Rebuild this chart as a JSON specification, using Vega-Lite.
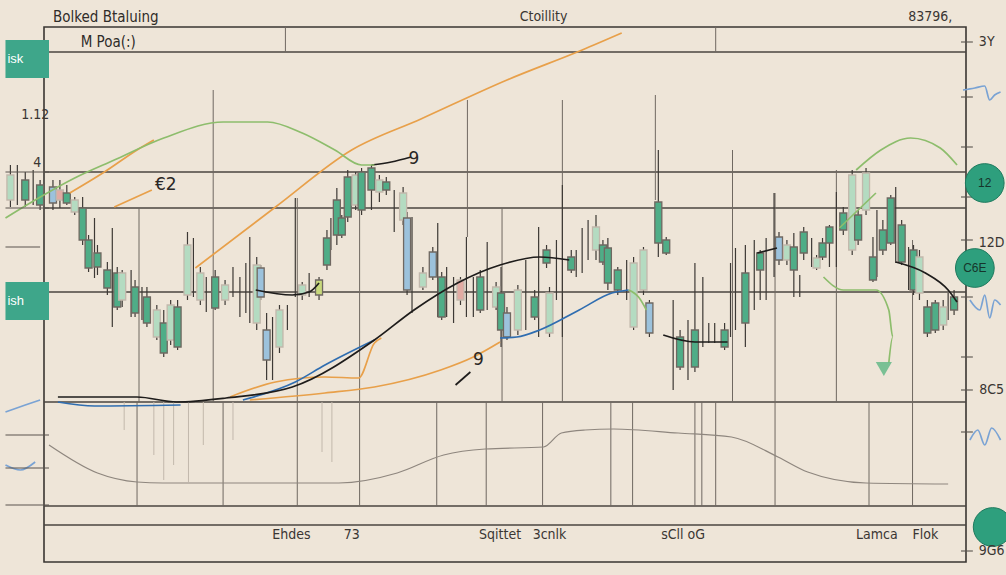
{
"$schema": "https://vega.github.io/schema/vega-lite/v6.json",
"width": 922,
"height": 535,
"autosize": {"type": "none"},
"padding": {"left": 44, "top": 27, "right": 40, "bottom": 13},
"background": "#eee5d8",
"config": {"view": {"stroke": "#3a3632", "strokeWidth": 1.6}},
"datasets": {
"hl": [{"p": 102}, {"p": 78}, {"p": 70.8}, {"p": 54}, {"p": 32}, {"p": 11.2}, {"p": 7.4}],
"vl": [
{"d": 23.9, "p": 107, "p2": 102, "k": "m"}, {"d": 67.4, "p": 107, "p2": 102, "k": "m"},
{"d": 16.6, "p": 94.4, "p2": 32, "k": "m"}, {"d": 9.1, "p": 70.8, "p2": 32, "k": "m"},
{"d": 25.1, "p": 72.8, "p2": 32, "k": "m"}, {"d": 31.4, "p": 70.8, "p2": 32, "k": "m"},
{"d": 42.3, "p": 92.4, "p2": 65, "k": "m"}, {"d": 45.8, "p": 70.8, "p2": 32, "k": "m"},
{"d": 51.9, "p": 92.4, "p2": 32, "k": "m"}, {"d": 61.3, "p": 93.4, "p2": 72.4, "k": "m"},
{"d": 69.1, "p": 82.4, "p2": 32, "k": "m"}, {"d": 73.4, "p": 73.8, "p2": 32, "k": "m"},
{"d": 79.6, "p": 78.4, "p2": 32, "k": "m"}, {"d": 87.3, "p": 64.4, "p2": 32, "k": "m"},
{"d": 8.9, "p": 32, "p2": 11.2, "k": "m"}, {"d": 17.6, "p": 32, "p2": 11.2, "k": "m"},
{"d": 25.1, "p": 32, "p2": 11.2, "k": "m"}, {"d": 31.4, "p": 32, "p2": 11.2, "k": "m"},
{"d": 39.2, "p": 32, "p2": 11.2, "k": "m"}, {"d": 44.2, "p": 32, "p2": 11.2, "k": "m"},
{"d": 49.9, "p": 32, "p2": 11.2, "k": "m"}, {"d": 56.8, "p": 32, "p2": 11.2, "k": "m"},
{"d": 59, "p": 32, "p2": 11.2, "k": "m"}, {"d": 65.3, "p": 32, "p2": 11.2, "k": "m"},
{"d": 66, "p": 32, "p2": 11.2, "k": "m"}, {"d": 67.4, "p": 32, "p2": 11.2, "k": "m"},
{"d": 73.4, "p": 32, "p2": 11.2, "k": "m"}, {"d": 82.9, "p": 32, "p2": 11.2, "k": "m"},
{"d": 87.3, "p": 32, "p2": 11.2, "k": "m"},
{"d": 7.6, "p": 32, "p2": 26.4, "k": "f"}, {"d": 10.6, "p": 32, "p2": 21.4, "k": "f"},
{"d": 11.6, "p": 32, "p2": 16.4, "k": "f"}, {"d": 12.6, "p": 32, "p2": 19.4, "k": "f"},
{"d": 14.1, "p": 32, "p2": 16, "k": "f"}, {"d": 15.6, "p": 32, "p2": 23.4, "k": "f"},
{"d": 18.6, "p": 32, "p2": 24.4, "k": "f"}, {"d": 27.6, "p": 32, "p2": 22, "k": "f"},
{"d": 28.6, "p": 32, "p2": 20, "k": "f"}
],
"candles": [
{"d": -3.9, "o": 77.4, "c": 72.4, "h": 79.4, "l": 71, "k": "p"},
{"d": -3.2, "h": 79.4, "l": 71.4, "k": "d"},
{"d": -2.4, "o": 76.4, "c": 72.4, "h": 78, "l": 71, "k": "g"},
{"d": -1.6, "h": 78.4, "l": 71.4, "k": "d"},
{"d": -0.9, "o": 75.4, "c": 71.4, "h": 76.4, "l": 70.4, "k": "g"},
{"d": 0.4, "o": 75, "c": 71.8, "h": 76.4, "l": 70.4, "k": "b"},
{"d": 1.1, "o": 74.4, "c": 72.4, "h": 76.4, "l": 70.8, "k": "r"},
{"d": 1.8, "o": 73.8, "c": 71.8, "h": 75.4, "l": 71.4, "k": "g"},
{"d": 2.6, "o": 72.4, "c": 70, "h": 73, "l": 69.4, "k": "p"},
{"d": 3.4, "o": 70.8, "c": 64.4, "h": 73, "l": 63.4, "k": "g"},
{"d": 4.0, "o": 64.4, "c": 58.8, "h": 65.4, "l": 58, "k": "g"},
{"d": 4.6, "h": 68.8, "l": 56.8, "k": "d"},
{"d": 4.9, "o": 61.8, "c": 59, "h": 63.4, "l": 57.4, "k": "g"},
{"d": 5.9, "o": 58.4, "c": 54.8, "h": 60, "l": 53.4, "k": "g"},
{"d": 6.4, "h": 66.8, "l": 47, "k": "d"},
{"d": 6.9, "o": 57.8, "c": 51, "h": 59, "l": 50.4, "k": "g"},
{"d": 7.4, "o": 57.8, "c": 52.4, "h": 58.4, "l": 51, "k": "p"},
{"d": 8.3, "h": 58.4, "l": 49, "k": "d"},
{"d": 8.7, "o": 55, "c": 49.8, "h": 56.4, "l": 49, "k": "g"},
{"d": 9.4, "h": 55, "l": 48.4, "k": "d"},
{"d": 9.9, "o": 53, "c": 47.8, "h": 55, "l": 47, "k": "g"},
{"d": 10.9, "o": 50.4, "c": 45, "h": 51.4, "l": 44.4, "k": "p"},
{"d": 11.6, "o": 47.8, "c": 41.8, "h": 50.4, "l": 41, "k": "g"},
{"d": 12.3, "o": 51.4, "c": 44.4, "h": 52.4, "l": 43.4, "k": "p"},
{"d": 13, "o": 51, "c": 43, "h": 52.4, "l": 42.4, "k": "g"},
{"d": 14, "o": 63.4, "c": 53.4, "h": 66, "l": 52.4, "k": "p"},
{"d": 14.6, "h": 64.8, "l": 53, "k": "d"},
{"d": 15.3, "o": 57.8, "c": 52.4, "h": 59, "l": 51.4, "k": "p"},
{"d": 15.9, "h": 57, "l": 50, "k": "d"},
{"d": 16.8, "o": 57, "c": 50.8, "h": 58.4, "l": 50.4, "k": "g"},
{"d": 17.8, "o": 55.4, "c": 52.4, "h": 56.4, "l": 51.4, "k": "p"},
{"d": 18.6, "h": 59, "l": 53, "k": "d"},
{"d": 19.3, "h": 57, "l": 49, "k": "d"},
{"d": 19.9, "h": 59.8, "l": 49.8, "k": "d"},
{"d": 20.3, "h": 65, "l": 47.8, "k": "d"},
{"d": 21, "o": 59.4, "c": 47.8, "h": 61, "l": 46.4, "k": "p"},
{"d": 21.4, "o": 58.8, "c": 53, "h": 59.4, "l": 52.4, "k": "b"},
{"d": 22, "o": 46.4, "c": 40.4, "h": 49.8, "l": 36.4, "k": "b"},
{"d": 22.6, "h": 49, "l": 36.4, "k": "d"},
{"d": 23.3, "o": 50.4, "c": 43, "h": 51.4, "l": 41.8, "k": "p"},
{"d": 24.1, "h": 51.4, "l": 46.4, "k": "d"},
{"d": 24.9, "h": 72.8, "l": 53, "k": "d"},
{"d": 25.6, "o": 55.4, "c": 53.4, "h": 56, "l": 52.4, "k": "p"},
{"d": 26.3, "h": 57.8, "l": 53, "k": "d"},
{"d": 27.3, "o": 56.4, "c": 53.4, "h": 57, "l": 52.4, "k": "y"},
{"d": 28.1, "o": 64.8, "c": 59.4, "h": 66.4, "l": 58.4, "k": "g"},
{"d": 28.5, "h": 68.8, "l": 62.4, "k": "d"},
{"d": 29.1, "o": 72.4, "c": 65.4, "h": 74.8, "l": 63.4, "k": "g"},
{"d": 29.6, "o": 68.8, "c": 65.4, "h": 69.4, "l": 64.8, "k": "g"},
{"d": 30.2, "o": 77, "c": 69, "h": 78.4, "l": 68, "k": "g"},
{"d": 31, "o": 77.4, "c": 71.4, "h": 78, "l": 70.4, "k": "p"},
{"d": 31.6, "o": 78, "c": 70.4, "h": 78.8, "l": 69.4, "k": "g"},
{"d": 32.6, "o": 78.8, "c": 74.4, "h": 79.4, "l": 70.4, "k": "g"},
{"d": 33.4, "o": 76.4, "c": 74, "h": 77.4, "l": 72, "k": "p"},
{"d": 34.1, "o": 76, "c": 74.4, "h": 77, "l": 73.4, "k": "g"},
{"d": 34.9, "h": 74.4, "l": 66, "k": "d"},
{"d": 35.8, "o": 73.8, "c": 68.4, "h": 75, "l": 67.4, "k": "p"},
{"d": 36.2, "o": 68.8, "c": 54.4, "h": 70, "l": 53.4, "k": "b"},
{"d": 36.7, "h": 69, "l": 49.8, "k": "d"},
{"d": 37.8, "o": 57.8, "c": 55, "h": 59, "l": 54.4, "k": "p"},
{"d": 38.8, "o": 62, "c": 57, "h": 63, "l": 56.4, "k": "b"},
{"d": 39.3, "h": 67.8, "l": 49, "k": "d"},
{"d": 39.7, "o": 57, "c": 49, "h": 58, "l": 48.4, "k": "g"},
{"d": 40.2, "h": 59, "l": 49, "k": "d"},
{"d": 40.9, "h": 57, "l": 47.8, "k": "d"},
{"d": 41.6, "o": 56.4, "c": 52.4, "h": 57, "l": 51.4, "k": "r"},
{"d": 42.2, "h": 65, "l": 49, "k": "d"},
{"d": 42.9, "h": 57, "l": 49, "k": "d"},
{"d": 43.6, "o": 57, "c": 50.4, "h": 58.4, "l": 49.8, "k": "g"},
{"d": 44.3, "h": 64, "l": 50.4, "k": "d"},
{"d": 45.2, "o": 55, "c": 51, "h": 56, "l": 50.4, "k": "p"},
{"d": 45.7, "o": 53.8, "c": 46.4, "h": 59, "l": 43, "k": "g"},
{"d": 46.3, "o": 49.8, "c": 45, "h": 51, "l": 44.4, "k": "b"},
{"d": 47.4, "o": 54.4, "c": 46.4, "h": 55.4, "l": 45.4, "k": "p"},
{"d": 48.2, "h": 60.4, "l": 46.4, "k": "d"},
{"d": 49.1, "o": 53, "c": 49, "h": 54.4, "l": 48.4, "k": "g"},
{"d": 49.5, "h": 67, "l": 45, "k": "d"},
{"d": 50.3, "o": 62.4, "c": 59.8, "h": 63.4, "l": 58.8, "k": "g"},
{"d": 50.6, "o": 53.8, "c": 45.8, "h": 55, "l": 45, "k": "p"},
{"d": 51.3, "h": 64.4, "l": 52.4, "k": "d"},
{"d": 51.9, "h": 75.4, "l": 45, "k": "d"},
{"d": 52.8, "o": 61, "c": 58.4, "h": 62.4, "l": 57.8, "k": "g"},
{"d": 53.3, "h": 62.4, "l": 57, "k": "d"},
{"d": 53.9, "h": 66.8, "l": 57.8, "k": "d"},
{"d": 54.5, "h": 68.4, "l": 60.4, "k": "d"},
{"d": 55.3, "o": 67, "c": 62.4, "h": 69.4, "l": 60.4, "k": "p"},
{"d": 56, "o": 63.4, "c": 60, "h": 64.4, "l": 59.4, "k": "g"},
{"d": 56.5, "o": 62.8, "c": 55.8, "h": 64.8, "l": 54.4, "k": "g"},
{"d": 57.5, "o": 58.4, "c": 54.4, "h": 59, "l": 53.4, "k": "g"},
{"d": 58.4, "h": 60.4, "l": 52.4, "k": "d"},
{"d": 59.1, "o": 59.8, "c": 47, "h": 61, "l": 46.4, "k": "p"},
{"d": 60.1, "o": 62.4, "c": 54.4, "h": 63, "l": 53.4, "k": "p"},
{"d": 60.7, "o": 51.8, "c": 45.8, "h": 52.4, "l": 45, "k": "b"},
{"d": 61.6, "o": 72, "c": 63.8, "h": 82.4, "l": 61, "k": "g"},
{"d": 62.4, "o": 64.4, "c": 61.8, "h": 65, "l": 61.4, "k": "g"},
{"d": 63.1, "h": 52.4, "l": 34.4, "k": "d"},
{"d": 63.8, "o": 45, "c": 39, "h": 46.4, "l": 38.4, "k": "g"},
{"d": 64.6, "h": 48.4, "l": 36.4, "k": "d"},
{"d": 65.3, "o": 46.4, "c": 39, "h": 59.8, "l": 38, "k": "g"},
{"d": 66.1, "h": 57, "l": 43, "k": "d"},
{"d": 66.7, "h": 47.8, "l": 43.8, "k": "d"},
{"d": 67.3, "h": 47.8, "l": 43.8, "k": "d"},
{"d": 68.3, "o": 46.4, "c": 43, "h": 47.8, "l": 42.4, "k": "g"},
{"d": 68.9, "h": 59.8, "l": 45, "k": "d"},
{"d": 69.4, "h": 62.8, "l": 46.4, "k": "d"},
{"d": 70.4, "o": 57.8, "c": 47.8, "h": 63.4, "l": 43, "k": "g"},
{"d": 71.3, "h": 64.4, "l": 50.4, "k": "d"},
{"d": 71.9, "o": 61.8, "c": 58.4, "h": 62.4, "l": 52.4, "k": "g"},
{"d": 72.5, "h": 64.8, "l": 52.4, "k": "d"},
{"d": 73.3, "h": 73.8, "l": 57, "k": "d"},
{"d": 73.8, "o": 65, "c": 60.4, "h": 66, "l": 59.4, "k": "b"},
{"d": 74.6, "o": 63.4, "c": 60.4, "h": 64.4, "l": 59.4, "k": "p"},
{"d": 75.3, "o": 63, "c": 58.4, "h": 65.8, "l": 53, "k": "g"},
{"d": 75.9, "h": 57.4, "l": 53, "k": "d"},
{"d": 76.3, "o": 66, "c": 61.8, "h": 67, "l": 60.4, "k": "g"},
{"d": 77.1, "h": 64.8, "l": 59, "k": "d"},
{"d": 77.6, "o": 60.8, "c": 58.8, "h": 61.4, "l": 58.4, "k": "p"},
{"d": 78.2, "o": 63.8, "c": 61, "h": 64.8, "l": 60.4, "k": "g"},
{"d": 78.9, "o": 67, "c": 63.8, "h": 67.4, "l": 59, "k": "g"},
{"d": 79.6, "h": 74, "l": 59, "k": "d"},
{"d": 80.3, "o": 69.8, "c": 66.4, "h": 71, "l": 65.4, "k": "g"},
{"d": 81.2, "o": 77.4, "c": 62.4, "h": 78.4, "l": 61.4, "k": "p"},
{"d": 81.8, "o": 69.4, "c": 64.4, "h": 70.4, "l": 63.4, "k": "g"},
{"d": 82.6, "o": 77.8, "c": 70.4, "h": 78.8, "l": 69.4, "k": "p"},
{"d": 83.3, "o": 61, "c": 56.4, "h": 65, "l": 56, "k": "g"},
{"d": 83.7, "h": 70.4, "l": 57, "k": "d"},
{"d": 84.3, "o": 66.4, "c": 62.4, "h": 68.4, "l": 61.4, "k": "g"},
{"d": 85.1, "o": 72.8, "c": 63.8, "h": 73.4, "l": 63.4, "k": "g"},
{"d": 85.6, "h": 75, "l": 59.8, "k": "d"},
{"d": 86.2, "o": 67.4, "c": 60, "h": 68.4, "l": 59.4, "k": "g"},
{"d": 86.9, "h": 63, "l": 54.4, "k": "d"},
{"d": 87.4, "o": 62.4, "c": 54.4, "h": 63.4, "l": 53.4, "k": "g"},
{"d": 88, "o": 61, "c": 53.8, "h": 62.4, "l": 52.4, "k": "p"},
{"d": 88.8, "o": 51, "c": 45.8, "h": 52.4, "l": 45, "k": "g"},
{"d": 89.6, "o": 51.8, "c": 46.4, "h": 52.4, "l": 45.8, "k": "g"},
{"d": 90.4, "o": 51, "c": 47.4, "h": 52.4, "l": 46.4, "k": "p"},
{"d": 90.9, "h": 53.8, "l": 48.4, "k": "d"},
{"d": 91.5, "o": 53, "c": 50.4, "h": 54.4, "l": 49.4, "k": "g"}
],
"series": [
{"s": "oA", "c": "orange", "d": 2.1, "p": 73.8}, {"s": "oA", "c": "orange", "d": 5.6, "p": 78}, {"s": "oA", "c": "orange", "d": 8.9, "p": 82.4}, {"s": "oA", "c": "orange", "d": 10.6, "p": 84.4},
{"s": "oB", "c": "orange", "d": 6.6, "p": 71}, {"s": "oB", "c": "orange", "d": 10.4, "p": 74.4},
{"s": "oC", "c": "orange", "d": 14.8, "p": 58.8}, {"s": "oC", "c": "orange", "d": 22.9, "p": 71}, {"s": "oC", "c": "orange", "d": 30.6, "p": 82.4}, {"s": "oC", "c": "orange", "d": 37.6, "p": 88.6}, {"s": "oC", "c": "orange", "d": 46.3, "p": 96.4}, {"s": "oC", "c": "orange", "d": 53.9, "p": 102.4}, {"s": "oC", "c": "orange", "d": 57.9, "p": 105.8},
{"s": "oD", "c": "orange", "d": 18.3, "p": 33}, {"s": "oD", "c": "orange", "d": 22.9, "p": 36}, {"s": "oD", "c": "orange", "d": 27.9, "p": 37}, {"s": "oD", "c": "orange", "d": 31.3, "p": 36.8}, {"s": "oD", "c": "orange", "d": 32.9, "p": 43.8}, {"s": "oD", "c": "orange", "d": 33.6, "p": 44.8},
{"s": "oE", "c": "orange", "d": 20.3, "p": 32.4}, {"s": "oE", "c": "orange", "d": 27.9, "p": 33.8}, {"s": "oE", "c": "orange", "d": 32.9, "p": 35}, {"s": "oE", "c": "orange", "d": 39.6, "p": 38.4}, {"s": "oE", "c": "orange", "d": 42.9, "p": 41}, {"s": "oE", "c": "orange", "d": 45.6, "p": 44},
{"s": "b1", "c": "blue", "d": 0.9, "p": 32}, {"s": "b1", "c": "blue", "d": 4.6, "p": 31.2}, {"s": "b1", "c": "blue", "d": 13.3, "p": 31.4},
{"s": "b2", "c": "blue", "d": 19.6, "p": 32.4}, {"s": "b2", "c": "blue", "d": 24.9, "p": 36}, {"s": "b2", "c": "blue", "d": 27.9, "p": 39.4}, {"s": "b2", "c": "blue", "d": 32.9, "p": 44.4},
{"s": "b3", "c": "blue", "d": 45.6, "p": 44.8}, {"s": "b3", "c": "blue", "d": 47.3, "p": 45}, {"s": "b3", "c": "blue", "d": 49.6, "p": 46.4}, {"s": "b3", "c": "blue", "d": 53.6, "p": 50.4}, {"s": "b3", "c": "blue", "d": 56.9, "p": 53.8}, {"s": "b3", "c": "blue", "d": 58.6, "p": 54.4},
{"s": "gC", "c": "green", "d": 58.6, "p": 54.4}, {"s": "gC", "c": "green", "d": 59.6, "p": 53}, {"s": "gC", "c": "green", "d": 60.4, "p": 50.4},
{"s": "k1", "c": "black", "d": 0.9, "p": 33}, {"s": "k1", "c": "black", "d": 8.9, "p": 33}, {"s": "k1", "c": "black", "d": 12.9, "p": 32}, {"s": "k1", "c": "black", "d": 17.9, "p": 32.8}, {"s": "k1", "c": "black", "d": 24.6, "p": 35}, {"s": "k1", "c": "black", "d": 32.9, "p": 44.4}, {"s": "k1", "c": "black", "d": 36.9, "p": 50.4}, {"s": "k1", "c": "black", "d": 41.3, "p": 55.8}, {"s": "k1", "c": "black", "d": 45.6, "p": 59.4}, {"s": "k1", "c": "black", "d": 49.6, "p": 61}, {"s": "k1", "c": "black", "d": 52.6, "p": 60.4},
{"s": "k2", "c": "black", "d": 20.9, "p": 54.4}, {"s": "k2", "c": "black", "d": 24.6, "p": 53.4}, {"s": "k2", "c": "black", "d": 26.3, "p": 54}, {"s": "k2", "c": "black", "d": 27.3, "p": 55.8},
{"s": "k3", "c": "black", "d": 62.1, "p": 45.4}, {"s": "k3", "c": "black", "d": 65.3, "p": 44}, {"s": "k3", "c": "black", "d": 68.6, "p": 44},
{"s": "k4", "c": "black", "d": 71.6, "p": 61.8}, {"s": "k4", "c": "black", "d": 73.6, "p": 62.8},
{"s": "k5", "c": "black", "d": 85.6, "p": 60}, {"s": "k5", "c": "black", "d": 88.6, "p": 57.8}, {"s": "k5", "c": "black", "d": 90.9, "p": 54.4}, {"s": "k5", "c": "black", "d": 91.8, "p": 52},
{"s": "k6", "c": "black", "d": 41.1, "p": 35.4}, {"s": "k6", "c": "black", "d": 42.6, "p": 38},
{"s": "k7", "c": "black", "d": 32.6, "p": 79.4}, {"s": "k7", "c": "black", "d": 34.6, "p": 80}, {"s": "k7", "c": "black", "d": 36.6, "p": 81},
{"s": "gA", "c": "green", "d": -4.4, "p": 68.8}, {"s": "gA", "c": "green", "d": -1.4, "p": 72.4}, {"s": "gA", "c": "green", "d": 2.6, "p": 76.8}, {"s": "gA", "c": "green", "d": 6.6, "p": 80.4}, {"s": "gA", "c": "green", "d": 11.6, "p": 84.8}, {"s": "gA", "c": "green", "d": 17.6, "p": 88}, {"s": "gA", "c": "green", "d": 22.1, "p": 88}, {"s": "gA", "c": "green", "d": 25.6, "p": 85.8}, {"s": "gA", "c": "green", "d": 28.9, "p": 82.4}, {"s": "gA", "c": "green", "d": 31.6, "p": 79.4}, {"s": "gA", "c": "green", "d": 32.9, "p": 79.4},
{"s": "gR", "c": "green", "d": 81.6, "p": 78.4}, {"s": "gR", "c": "green", "d": 84.1, "p": 82.4}, {"s": "gR", "c": "green", "d": 87.1, "p": 84.8}, {"s": "gR", "c": "green", "d": 90.1, "p": 82.8}, {"s": "gR", "c": "green", "d": 91.8, "p": 79.4},
{"s": "gL", "c": "green", "d": 79.9, "p": 66.8}, {"s": "gL", "c": "green", "d": 81.8, "p": 70.4}, {"s": "gL", "c": "green", "d": 83.6, "p": 73.8},
{"s": "gW", "c": "green", "d": 78.3, "p": 57}, {"s": "gW", "c": "green", "d": 80.3, "p": 54.4}, {"s": "gW", "c": "green", "d": 83.6, "p": 54.4}, {"s": "gW", "c": "green", "d": 84.9, "p": 50.4}, {"s": "gW", "c": "green", "d": 85.3, "p": 45}, {"s": "gW", "c": "green", "d": 84.9, "p": 39.8},
{"s": "w1", "c": "wiggle", "d": 92.4, "p": 94.4}, {"s": "w1", "c": "wiggle", "d": 93.6, "p": 94.8}, {"s": "w1", "c": "wiggle", "d": 94.6, "p": 95.2}, {"s": "w1", "c": "wiggle", "d": 95.1, "p": 92.4}, {"s": "w1", "c": "wiggle", "d": 95.6, "p": 93.4}, {"s": "w1", "c": "wiggle", "d": 96.2, "p": 94},
{"s": "w2", "c": "wiggle", "d": 93.1, "p": 52.4}, {"s": "w2", "c": "wiggle", "d": 94.1, "p": 50.4}, {"s": "w2", "c": "wiggle", "d": 94.6, "p": 53.4}, {"s": "w2", "c": "wiggle", "d": 95.1, "p": 48.8}, {"s": "w2", "c": "wiggle", "d": 95.6, "p": 52.4}, {"s": "w2", "c": "wiggle", "d": 96.2, "p": 51.4},
{"s": "w3", "c": "wiggle", "d": 93.1, "p": 24.4}, {"s": "w3", "c": "wiggle", "d": 93.9, "p": 26.4}, {"s": "w3", "c": "wiggle", "d": 94.6, "p": 23.4}, {"s": "w3", "c": "wiggle", "d": 95.3, "p": 26.8}, {"s": "w3", "c": "wiggle", "d": 96.2, "p": 24.4},
{"s": "w4", "c": "wiggle", "d": -4.4, "p": 30}, {"s": "w4", "c": "wiggle", "d": -2.4, "p": 31.4}, {"s": "w4", "c": "wiggle", "d": -0.9, "p": 32.4},
{"s": "w5", "c": "wiggle", "d": -4.4, "p": 19.4}, {"s": "w5", "c": "wiggle", "d": -2.9, "p": 18.4}, {"s": "w5", "c": "wiggle", "d": -1.4, "p": 20}
],
"grayc": [
{"d": 0, "p": 23.4}, {"d": 4.9, "p": 17.8}, {"d": 8.9, "p": 16}, {"d": 11.5, "p": 15.8}, {"d": 29.3, "p": 15.8}, {"d": 35.2, "p": 17.8}, {"d": 39.9, "p": 21.4}, {"d": 44.1, "p": 22.6}, {"d": 50, "p": 23}, {"d": 51.8, "p": 25.8}, {"d": 54.2, "p": 26.4}, {"d": 57.1, "p": 26.6}, {"d": 63.6, "p": 25.8}, {"d": 69, "p": 25}, {"d": 73.7, "p": 21}, {"d": 76.7, "p": 18}, {"d": 82.6, "p": 15.8}, {"d": 90.9, "p": 15.6}
],
"ticks": [
{"d": 92.2, "d2": 93.4, "p": 104}, {"d": 92.2, "d2": 93.4, "p": 93}, {"d": 92.2, "d2": 93.4, "p": 83}, {"d": 92.2, "d2": 93.4, "p": 73}, {"d": 92.2, "d2": 93.4, "p": 64.4}, {"d": 92.2, "d2": 93.4, "p": 53}, {"d": 92.2, "d2": 93.4, "p": 41}, {"d": 92.2, "d2": 93.4, "p": 34.4}, {"d": 92.2, "d2": 93.4, "p": 26}, {"d": 92.2, "d2": 93.4, "p": 2.2},
{"d": -4.4, "d2": -0.9, "p": 63}, {"d": -4.4, "d2": 0, "p": 25.4}, {"d": -4.4, "d2": 0, "p": 18.8}, {"d": -4.4, "d2": 0, "p": 11.4},
{"d": -4.4, "d2": 0, "p": 78}, {"d": -4.4, "d2": 0, "p": 70.8}
],
"boxes": [{"d": -4.4, "d2": 0, "p": 104.4, "p2": 96.8, "t": "isk"}, {"d": -4.4, "d2": 0, "p": 56, "p2": 48.4, "t": "ish"}],
"circles": [{"d": 94.6, "p": 75.8, "t": "12"}, {"d": 93.6, "p": 58.8, "t": "C6E"}, {"d": 95.4, "p": 7, "t": ""}],
"txtL": [{"d": 0.4, "p": 109, "t": "Bolked Btaluing"}, {"d": 3.2, "p": 104, "t": "M Poa(:)"}],
"txtC": [
{"d": 50, "p": 109, "t": "Ctoillity"}, {"d": 89.1, "p": 109, "t": "83796,"},
{"d": 24.5, "p": 5.4, "t": "Ehdes"}, {"d": 30.6, "p": 5.4, "t": "73"}, {"d": 45.6, "p": 5.4, "t": "Sqittet"}, {"d": 50.6, "p": 5.4, "t": "3cnlk"}, {"d": 64.1, "p": 5.4, "t": "sCll oG"}, {"d": 83.7, "p": 5.4, "t": "Lamca"}, {"d": 88.6, "p": 5.4, "t": "Flok"},
{"d": 94.8, "p": 104, "t": "3Y"}, {"d": 95.3, "p": 63.8, "t": "12D"}, {"d": 95.3, "p": 34.4, "t": "8C5"}, {"d": 95.3, "p": 2.2, "t": "9G6"},
{"d": -1.4, "p": 89.4, "t": "1.12"}, {"d": -1.2, "p": 79.8, "t": "4"}
],
"txtB": [{"d": 11.8, "p": 75.4, "t": "€2"}, {"d": 36.9, "p": 80.6, "t": "9"}, {"d": 43.4, "p": 40.4, "t": "9"}]
},
"layer": [
{"data": {"name": "hl"}, "mark": {"type": "rule", "color": "#4a4541", "strokeWidth": 1.5},
 "encoding": {"y": {"field": "p", "type": "quantitative", "scale": {"domain": [0, 107], "nice": false, "zero": false}, "axis": null}}},
{"data": {"name": "vl"}, "mark": {"type": "rule", "strokeWidth": 1},
 "encoding": {
  "x": {"field": "d", "type": "quantitative", "scale": {"domain": [0, 92.2], "nice": false, "zero": false}, "axis": null},
  "y": {"field": "p", "type": "quantitative", "scale": {"domain": [0, 107], "nice": false, "zero": false}, "axis": null},
  "y2": {"field": "p2"},
  "stroke": {"field": "k", "type": "nominal", "scale": {"domain": ["m", "f"], "range": ["#6f6861", "#c2b8ac"]}, "legend": null}}},
{"data": {"name": "grayc"}, "mark": {"type": "line", "color": "#8e867e", "strokeWidth": 1.2, "interpolate": "monotone"},
 "encoding": {
  "x": {"field": "d", "type": "quantitative", "scale": {"domain": [0, 92.2], "nice": false, "zero": false}, "axis": null},
  "y": {"field": "p", "type": "quantitative", "scale": {"domain": [0, 107], "nice": false, "zero": false}, "axis": null}}},
{"data": {"name": "candles"}, "mark": {"type": "rule", "color": "#3d3935", "strokeWidth": 1.2, "clip": false},
 "encoding": {
  "x": {"field": "d", "type": "quantitative", "scale": {"domain": [0, 92.2], "nice": false, "zero": false}, "axis": null},
  "y": {"field": "h", "type": "quantitative", "scale": {"domain": [0, 107], "nice": false, "zero": false}, "axis": null},
  "y2": {"field": "l"}}},
{"data": {"name": "candles"}, "transform": [{"filter": "isValid(datum.o)"}],
 "mark": {"type": "bar", "width": 7, "strokeWidth": 1.3, "clip": false},
 "encoding": {
  "x": {"field": "d", "type": "quantitative", "scale": {"domain": [0, 92.2], "nice": false, "zero": false}, "axis": null},
  "y": {"field": "o", "type": "quantitative", "scale": {"domain": [0, 107], "nice": false, "zero": false}, "axis": null},
  "y2": {"field": "c"},
  "fill": {"field": "k", "type": "nominal", "scale": {"domain": ["g", "p", "b", "r", "y"], "range": ["#4fad87", "#b4dbc1", "#9cc2dc", "#e2aba3", "#c8d97c"]}, "legend": null},
  "stroke": {"field": "k", "type": "nominal", "scale": {"domain": ["g", "p", "b", "r", "y"], "range": ["#25473d", "#a3d1b2", "#2c4f6e", "#c7847d", "#8fa445"]}, "legend": null}}},
{"data": {"name": "series"}, "mark": {"type": "line", "strokeWidth": 1.7, "interpolate": "monotone", "clip": false},
 "encoding": {
  "x": {"field": "d", "type": "quantitative", "scale": {"domain": [0, 92.2], "nice": false, "zero": false}, "axis": null},
  "y": {"field": "p", "type": "quantitative", "scale": {"domain": [0, 107], "nice": false, "zero": false}, "axis": null},
  "detail": {"field": "s", "type": "nominal"},
  "order": {"value": null},
  "color": {"field": "c", "type": "nominal", "scale": {"domain": ["orange", "blue", "black", "green", "wiggle"], "range": ["#e8a04a", "#2f6db0", "#1e1c1b", "#8dbd6c", "#7aa3d4"]}, "legend": null}}},
{"data": {"name": "ticks"}, "mark": {"type": "rule", "color": "#5a544f", "strokeWidth": 1.1, "clip": false},
 "encoding": {
  "x": {"field": "d", "type": "quantitative", "scale": {"domain": [0, 92.2], "nice": false, "zero": false}, "axis": null},
  "x2": {"field": "d2"},
  "y": {"field": "p", "type": "quantitative", "scale": {"domain": [0, 107], "nice": false, "zero": false}, "axis": null}}},
{"data": {"name": "boxes"}, "mark": {"type": "rect", "color": "#3ea68a", "clip": false},
 "encoding": {
  "x": {"field": "d", "type": "quantitative", "scale": {"domain": [0, 92.2], "nice": false, "zero": false}, "axis": null},
  "x2": {"field": "d2"},
  "y": {"field": "p", "type": "quantitative", "scale": {"domain": [0, 107], "nice": false, "zero": false}, "axis": null},
  "y2": {"field": "p2"}}},
{"data": {"name": "boxes"}, "mark": {"type": "text", "color": "#ffffff", "fontSize": 13, "align": "left", "baseline": "middle", "dx": 2, "font": "Liberation Sans", "clip": false},
 "encoding": {
  "x": {"field": "d", "type": "quantitative", "scale": {"domain": [0, 92.2], "nice": false, "zero": false}, "axis": null},
  "y": {"field": "p", "type": "quantitative", "scale": {"domain": [0, 107], "nice": false, "zero": false}, "axis": null},
  "yOffset": {"value": 19},
  "text": {"field": "t"}}},
{"data": {"name": "circles"}, "mark": {"type": "point", "filled": true, "size": 1500, "color": "#2e9f7d", "opacity": 1, "stroke": "#1f7a5e", "strokeWidth": 1, "clip": false},
 "encoding": {
  "x": {"field": "d", "type": "quantitative", "scale": {"domain": [0, 92.2], "nice": false, "zero": false}, "axis": null},
  "y": {"field": "p", "type": "quantitative", "scale": {"domain": [0, 107], "nice": false, "zero": false}, "axis": null}}},
{"data": {"name": "circles"}, "mark": {"type": "text", "color": "#16352b", "fontSize": 12, "baseline": "middle", "font": "Liberation Sans", "clip": false},
 "encoding": {
  "x": {"field": "d", "type": "quantitative", "scale": {"domain": [0, 92.2], "nice": false, "zero": false}, "axis": null},
  "y": {"field": "p", "type": "quantitative", "scale": {"domain": [0, 107], "nice": false, "zero": false}, "axis": null},
  "text": {"field": "t"}}},
{"data": {"values": [{"d": 84.4, "p": 38.6}]}, "mark": {"type": "point", "shape": "triangle-down", "filled": true, "size": 260, "color": "#6dbb8d", "opacity": 0.9},
 "encoding": {
  "x": {"field": "d", "type": "quantitative", "scale": {"domain": [0, 92.2], "nice": false, "zero": false}, "axis": null},
  "y": {"field": "p", "type": "quantitative", "scale": {"domain": [0, 107], "nice": false, "zero": false}, "axis": null}}},
{"data": {"name": "txtL"}, "mark": {"type": "text", "color": "#2f2c29", "fontSize": 15, "align": "left", "baseline": "middle", "font": "Liberation Sans Narrow, DejaVu Sans Condensed, Liberation Sans", "clip": false},
 "encoding": {
  "x": {"field": "d", "type": "quantitative", "scale": {"domain": [0, 92.2], "nice": false, "zero": false}, "axis": null},
  "y": {"field": "p", "type": "quantitative", "scale": {"domain": [0, 107], "nice": false, "zero": false}, "axis": null},
  "text": {"field": "t"}}},
{"data": {"name": "txtC"}, "mark": {"type": "text", "color": "#3a3633", "fontSize": 14, "align": "center", "baseline": "middle", "font": "Liberation Sans Narrow, DejaVu Sans Condensed, Liberation Sans", "clip": false},
 "encoding": {
  "x": {"field": "d", "type": "quantitative", "scale": {"domain": [0, 92.2], "nice": false, "zero": false}, "axis": null},
  "y": {"field": "p", "type": "quantitative", "scale": {"domain": [0, 107], "nice": false, "zero": false}, "axis": null},
  "text": {"field": "t"}}},
{"data": {"name": "txtB"}, "mark": {"type": "text", "color": "#2a2725", "fontSize": 17, "align": "center", "baseline": "middle", "font": "DejaVu Sans", "clip": false},
 "encoding": {
  "x": {"field": "d", "type": "quantitative", "scale": {"domain": [0, 92.2], "nice": false, "zero": false}, "axis": null},
  "y": {"field": "p", "type": "quantitative", "scale": {"domain": [0, 107], "nice": false, "zero": false}, "axis": null},
  "text": {"field": "t"}}}
]
}
